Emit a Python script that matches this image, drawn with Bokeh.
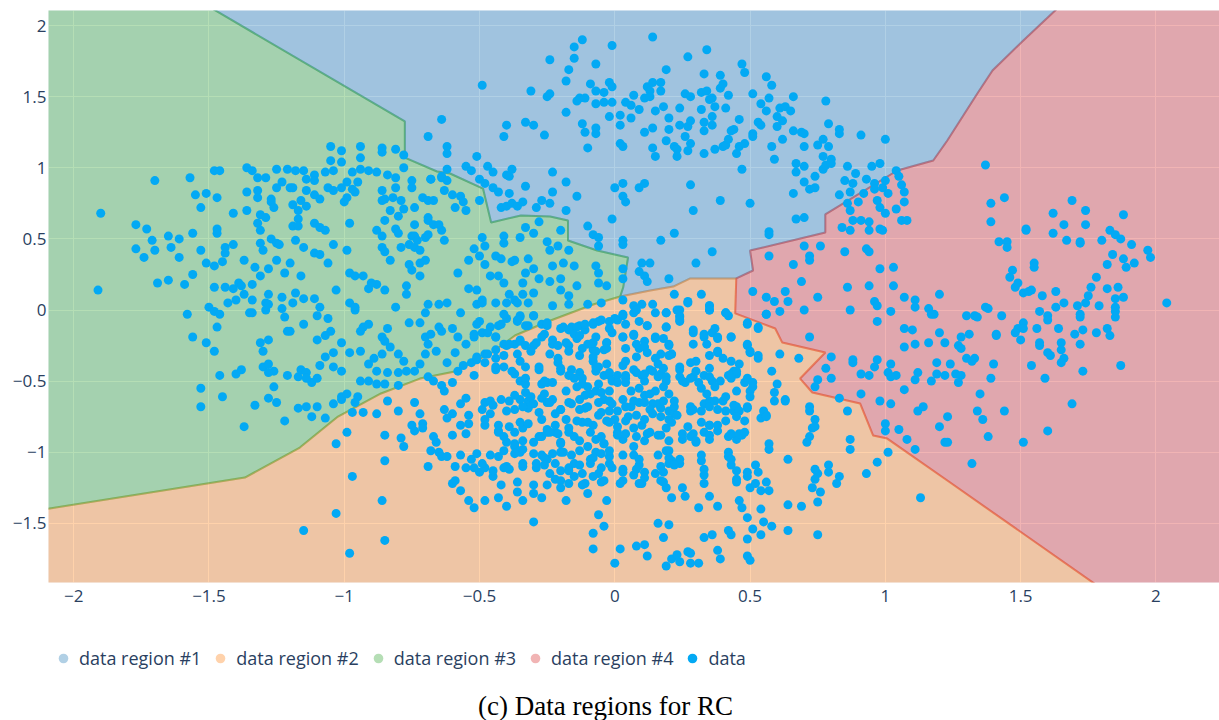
from bokeh.plotting import figure
from bokeh.layouts import column
from bokeh.models import ColumnDataSource, FixedTicker, Legend, LegendItem, Label, Range1d
from bokeh.embed import file_html
from bokeh.resources import INLINE

# ---------------- region boundaries (data coordinates) ----------------
bg_x = [-1.56, -0.776, -0.776, -0.657, -0.609, -0.487, -0.457, -0.347, -0.239, -0.173, -0.173, -0.065, 0.049, 0.031, 0.020]
bg_y = [2.2, 1.326, 1.072, 0.974, 0.960, 0.854, 0.615, 0.665, 0.658, 0.629, 0.489, 0.418, 0.369, 0.158, 0.095]
bo_x = [0.020, 0.131, 0.216, 0.279, 0.449]
bo_y = [0.095, 0.137, 0.165, 0.222, 0.222]
br_x = [0.449, 0.511, 0.500, 0.778, 0.778, 1.044, 1.177, 1.229, 1.340, 1.396, 1.510, 1.68]
br_y = [0.222, 0.278, 0.418, 0.545, 0.672, 0.981, 1.051, 1.192, 1.522, 1.684, 1.895, 2.2]
or_x = [0.449, 0.445, 0.593, 0.619, 0.778, 0.685, 0.730, 0.907, 0.955, 1.007, 1.229, 1.83]
or_y = [0.222, -0.024, -0.130, -0.229, -0.299, -0.482, -0.580, -0.658, -0.883, -0.904, -1.199, -2.0]
go_x = [0.020, -0.080, -0.247, -0.369, -0.454, -0.591, -0.720, -0.864, -1.023, -1.164, -1.367, -2.2]
go_y = [0.095, 0.039, -0.081, -0.179, -0.299, -0.432, -0.482, -0.587, -0.749, -0.967, -1.178, -1.43]

# ---------------- data points ----------------
pts_left = [
(-1.90,0.68),(-1.91,0.14),(-1.70,0.91),(-1.77,0.60),(-1.73,0.57),(-1.71,0.49),(-1.77,0.43),(-1.74,0.37),(-1.70,0.42),
(-1.65,0.52),(-1.61,0.50),(-1.64,0.44),(-1.61,0.37),(-1.56,0.54),(-1.53,0.42),(-1.57,0.93),(-1.55,0.81),(-1.51,0.82),
(-1.47,0.79),(-1.53,0.72),(-1.48,0.98),(-1.46,0.98),(-1.41,0.68),(-1.36,0.70),(-1.47,0.57),(-1.47,0.54),(-1.51,0.33),
(-1.48,0.31),(-1.45,0.34),(-1.56,0.25),(-1.59,0.18),(-1.65,0.21),(-1.69,0.19),(-1.58,-0.03),(-1.56,-0.19),(-1.51,-0.23),
(-1.48,-0.29),(-1.47,-0.12),(-1.50,0.02),(-1.48,-0.01),(-1.46,-0.03),(-1.53,-0.55),(-1.53,-0.68),(-1.46,-0.46),(-1.45,-0.61),
(-1.37,-0.82),(-1.40,-0.45),(-1.38,-0.42),(-1.48,0.16),(-1.44,0.16),(-1.43,0.05),(-1.40,0.07),(-1.41,0.15),(-1.39,0.19),
(-1.38,0.17),(-1.37,0.11),(-1.34,0.18),(-1.34,0.07),(-1.34,-0.02),(-1.44,0.44),(-1.41,0.46),(-1.44,0.40),(-1.37,0.35),
(-1.33,0.30),(-1.31,0.24),(-1.28,0.29),(-1.25,0.35),(-1.20,0.33),(-1.22,0.26),(-1.16,0.24),(-1.36,1.00),(-1.34,0.98),
(-1.32,0.93),(-1.29,0.93),(-1.36,0.83),(-1.32,0.84),(-1.32,0.79),(-1.25,0.99),(-1.27,0.78),(-1.27,0.76),(-1.26,0.72),
(-1.25,0.86),(-1.23,0.90),(-1.20,0.86),(-1.19,0.86),(-1.21,0.99),(-1.18,0.98),(-1.15,0.98),(-1.11,0.95),(-1.14,0.92),
(-1.11,0.91),(-1.07,0.97),(-1.04,0.98),(-1.05,1.15),(-1.01,1.12),(-1.05,1.05),(-1.01,1.04),(-0.94,1.15),(-0.94,1.07),
(-0.86,1.14),(-0.81,1.13),(-0.86,1.11),(-0.78,1.09),(-0.97,0.97),(-0.94,0.99),(-0.91,0.98),(-0.88,0.97),(-1.19,0.74),
(-1.16,0.77),(-1.17,0.70),(-1.14,0.73),(-1.17,0.64),(-1.19,0.59),(-1.17,0.59),(-1.31,0.67),(-1.29,0.65),(-1.32,0.61),
(-1.31,0.56),(-1.31,0.47),(-1.30,0.42),(-1.27,0.50),(-1.25,0.47),(-1.24,0.46),(-1.18,0.49),(-1.15,0.44),(-1.11,0.61),
(-1.09,0.58),(-1.07,0.56),(-1.11,0.40),(-1.09,0.39),(-1.06,0.33),(-1.04,0.46),(-0.99,0.42),(-0.98,0.61),(-1.14,0.84),
(-1.11,0.81),(-1.09,0.78),(-1.06,0.86),(-1.04,0.84),(-1.01,0.86),(-0.99,0.79),(-1.00,0.76),(-0.96,0.83),(-0.95,0.90),
(-0.99,0.90),(-0.97,0.85),(-0.88,0.56),(-0.86,0.52),(-0.85,0.63),(-0.86,0.44),(-0.85,0.41),(-0.83,0.35),(-0.81,0.57),
(-0.80,0.54),(-0.79,0.44),(-0.76,0.46),(-0.75,0.52),(-0.74,0.60),(-0.86,0.84),(-0.85,0.78),(-0.82,0.79),(-0.81,0.86),
(-0.79,0.77),(-0.75,0.86),(-0.75,0.91),(-0.78,1.00),(-0.84,0.95),(-0.81,0.93),(-0.83,0.70),(-0.80,0.66),(-0.78,0.71),
(-0.86,0.77),(-0.74,0.72),(-0.71,0.79),(-0.69,0.77),(-0.67,0.77),(-0.69,0.65),(-0.69,0.63),(-0.67,0.60),(-0.74,0.52),
(-0.74,0.44),(-0.73,0.49),(-0.70,0.51),(-0.69,0.53),(-0.72,0.42),(-0.68,0.92),(-0.64,0.93),(-0.64,0.56),(-0.63,0.49),
(-0.65,0.60),(-0.76,0.32),(-0.72,0.33),(-0.75,0.28),(-0.70,0.35),(-0.72,0.24),(-0.77,0.17),(-0.77,0.11),(-0.81,0.02),
(-0.88,0.18),(-0.85,0.14),(-0.91,0.15),(-0.90,0.19),(-0.98,0.26),(-0.96,0.24),(-0.93,0.24),(-1.03,0.14),(-0.98,0.05),
(-0.96,0.00),(-0.96,0.02),(-1.11,0.08),(-1.09,0.02),(-1.10,-0.04),(-1.06,-0.06),(-1.05,-0.15),(-1.07,-0.18),(-1.10,-0.21),
(-1.15,-0.10),(-1.20,-0.15),(-1.21,-0.15),(-1.15,0.08),(-1.18,0.12),(-1.19,0.05),(-1.23,0.09),(-1.22,-0.05),(-1.23,0.01),
(-1.28,0.11),(-1.29,0.05),(-1.29,0.00),(-1.28,0.04),(-1.35,-0.02),(-1.31,-0.23),(-1.28,-0.21),(-1.30,-0.29),(-1.30,-0.40),
(-1.28,-0.38),(-1.26,-0.43),(-1.28,-0.44),(-1.26,-0.54),(-1.21,-0.46),(-1.17,-0.47),(-1.16,-0.42),(-1.14,-0.44),(-1.12,-0.51),
(-1.10,-0.48),(-1.14,-0.48),(-1.28,-0.62),(-1.25,-0.65),(-1.33,-0.67),(-1.22,-0.78),(-1.17,-0.69),(-1.14,-0.68),(-1.12,-0.75),
(-1.10,-0.68),(-1.07,-0.76),(-1.04,-0.66),(-1.01,-0.63),(-1.01,-0.23),(-0.98,-0.30),(-0.94,-0.29),(-1.04,-0.30),(-1.07,-0.33),
(-1.09,-0.39),(-1.04,-0.40),(-1.01,-0.43),(-0.93,-0.12),(-0.91,-0.10),(-0.94,-0.15),(-0.84,-0.13),(-0.86,-0.19),(-0.85,-0.22),
(-0.83,-0.26),(-0.80,-0.31),(-0.78,-0.36),(-0.86,-0.31),(-0.91,-0.38),(-0.89,-0.34),(-0.88,-0.43),(-0.84,-0.44),(-0.80,-0.44),
(-0.77,-0.43),(-0.74,-0.43),(-0.72,-0.38),(-0.70,-0.31),(-0.69,-0.24),(-0.70,-0.19),(-0.68,-0.17),(-0.66,-0.29),(-0.64,-0.15),
(-0.65,-0.12),(-0.69,0.04),(-0.65,0.04),(-0.62,0.05),(-0.76,-0.09),(-0.72,-0.09),(-0.70,-0.02),(-0.91,-0.50),(-0.88,-0.52),
(-0.85,-0.52),(-0.80,-0.53),(-0.94,-0.50),(-1.01,-0.61),(-0.99,-0.59),(-0.95,-0.61),(-0.96,-0.65),(-0.69,-0.47),(-0.67,-0.50),
(-0.64,-0.53),(-0.63,-0.57),
(-0.60,0.81),(-0.57,0.80),(-0.56,0.76),(-0.55,0.70),(-0.59,0.72),(-0.50,0.77),(-0.49,0.51),(-0.48,0.45),(-0.52,0.43),
(-0.54,0.35),(-0.50,0.38),(-0.48,0.32),(-0.44,0.38),(-0.42,0.36),(-0.41,0.52),(-0.41,0.47),(-0.35,0.51),(-0.33,0.58),
(-0.30,0.54),(-0.37,0.35),(-0.38,0.34),(-0.32,0.36),(-0.30,0.29),(-0.28,0.22),(-0.33,0.26),(-0.34,0.19),(-0.25,0.48),
(-0.24,0.42),(-0.21,0.45),(-0.20,0.56),(-0.17,0.42),(-0.19,0.33),(-0.15,0.31),(-0.23,0.31),(-0.24,0.20),(-0.20,0.22),
(-0.14,0.17),(-0.20,0.14),(-0.17,0.10),(-0.43,0.24),(-0.46,0.24),(-0.41,0.19),(-0.39,0.11),(-0.37,0.07),(-0.34,0.11),
(-0.30,0.12),(-0.51,0.14),(-0.54,0.15),(-0.49,0.07),(-0.58,0.26),(-0.68,0.92),(-0.64,0.94),(-0.62,0.91),(-0.62,0.99),
(-0.63,0.84),(-0.60,-0.13),(-0.52,-0.19),(-0.59,-0.30),(-0.62,-0.37),
]

pts_top = [
(-0.49,1.58),(-0.64,1.34),(-0.69,1.22),(-0.62,1.15),(-0.62,1.10),(-0.40,1.30),(-0.41,1.22),(-0.33,1.32),(-0.30,1.30),
(-0.26,1.23),(-0.31,1.54),(-0.24,1.76),(-0.25,1.50),(-0.24,1.52),(-0.18,1.61),(-0.17,1.69),(-0.15,1.85),(-0.15,1.77),
(-0.12,1.90),(-0.07,1.73),(-0.01,1.86),(0.14,1.92),(-0.18,1.39),(-0.14,1.47),(-0.13,1.49),(-0.11,1.49),(-0.09,1.59),
(-0.07,1.54),(-0.07,1.45),(-0.04,1.53),(-0.02,1.60),(-0.01,1.57),(-0.01,1.46),(-0.04,1.46),(-0.12,1.31),(-0.11,1.25),
(-0.07,1.28),(-0.07,1.24),(-0.10,1.14),(-0.02,1.36),(0.02,1.37),(0.02,1.30),(0.02,1.17),(0.03,1.15),(0.04,1.46),
(0.06,1.44),(0.07,1.51),(0.06,1.35),(0.09,1.41),(0.11,1.49),(0.12,1.57),(0.13,1.54),(0.14,1.60),(0.13,1.50),(0.15,1.40),
(0.11,1.25),(0.14,1.28),(0.14,1.14),(0.15,1.08),
(-0.55,1.01),(-0.53,0.98),(-0.51,1.08),(-0.50,0.92),(-0.48,0.89),(-0.47,1.01),(-0.45,0.97),(-0.45,0.86),(-0.43,0.83),
(-0.40,0.95),(-0.39,0.94),(-0.38,0.99),(-0.39,0.82),(-0.42,0.72),(-0.40,0.73),(-0.38,0.75),(-0.36,0.73),(-0.34,0.76),
(-0.33,0.87),(-0.29,0.72),(-0.27,0.77),(-0.24,0.75),(-0.23,0.83),(-0.23,0.97),(-0.18,0.90),(-0.18,0.70),(-0.14,0.80),
(-0.28,0.62),(0.00,0.86),(0.03,0.89),(0.03,0.80),(0.04,0.76),(0.09,0.86),(0.11,0.89),(-0.01,0.64),(-0.10,0.59),
(-0.08,0.53),(-0.06,0.51),(-0.06,0.45),(0.03,0.49),(0.03,0.46),(0.10,0.33),(0.13,0.33),(0.11,0.24),(0.09,0.27),
(0.12,0.20),(-0.07,0.31),(-0.06,0.26),(-0.06,0.19),(-0.03,0.17),(0.03,0.29),(0.03,0.22),
(0.27,1.78),(0.34,1.83),(0.19,1.69),(0.17,1.60),(0.17,1.54),(0.18,1.43),(0.20,1.35),(0.20,1.27),(0.24,1.30),(0.27,1.29),
(0.28,1.33),(0.24,1.42),(0.26,1.52),(0.28,1.50),(0.32,1.41),(0.32,1.53),(0.34,1.54),(0.35,1.48),(0.36,1.49),(0.37,1.43),
(0.39,1.56),(0.39,1.65),(0.40,1.59),(0.42,1.51),(0.41,1.42),(0.36,1.36),(0.36,1.30),(0.33,1.32),(0.33,1.66),(0.33,1.26),
(0.19,1.19),(0.22,1.15),(0.23,1.13),(0.26,1.22),(0.28,1.17),(0.27,1.12),(0.23,1.08),(0.33,1.10),(0.37,1.13),(0.40,1.15),
(0.41,1.16),(0.42,1.20),(0.45,1.10),(0.46,1.15),(0.44,1.27),(0.43,1.26),(0.46,1.34),(0.47,1.73),(0.48,1.67),(0.51,1.52),
(0.53,1.32),(0.54,1.30),(0.51,1.24),(0.51,1.22),(0.48,1.17),(0.47,0.99),(0.58,1.15),(0.59,1.06),(0.62,1.20),(0.56,1.64),
(0.58,1.58),(0.54,1.45),(0.57,1.49),(0.56,1.40),(0.60,1.36),(0.61,1.42),(0.63,1.43),(0.65,1.40),(0.66,1.50),(0.62,1.33),
(0.60,1.29),(0.66,1.26),(0.69,1.25),(0.70,1.24),(0.70,1.15),(0.78,1.47),(0.79,1.31),(0.83,1.27),(0.83,1.24),(0.75,1.16),
(0.77,1.20),(0.79,1.15),(0.77,1.08),(0.77,0.99),(0.78,1.02),(0.80,1.06),(0.80,1.03),(0.67,1.03),(0.70,1.01),(0.67,0.97),
(0.74,0.94),(0.70,0.90),(0.72,0.85),(0.74,0.86),(0.66,0.82),(0.91,1.23),(1.00,1.20),
(0.85,0.91),(0.86,1.01),(0.89,0.96),(0.88,0.89),(0.87,0.83),(0.83,0.81),(0.86,0.75),(0.90,0.76),(0.92,0.82),(0.93,0.92),
(0.96,0.89),(0.95,1.01),(0.98,1.03),(0.96,0.85),(0.99,0.86),(1.00,0.91),(1.01,0.82),(1.04,0.98),(1.05,0.94),(1.06,0.88),
(1.07,0.83),(0.97,0.77),(0.98,0.72),(1.00,0.68),(1.04,0.71),(1.07,0.76),(1.06,0.63),(1.08,0.63),(0.87,0.70),(0.88,0.63),
(0.91,0.63),(0.94,0.62),(0.94,0.56),(0.98,0.57),(0.99,0.56),(0.84,0.58),(0.87,0.56),
(0.28,0.88),(0.39,0.77),(0.50,0.75),(0.29,0.70),(0.67,0.64),(0.70,0.65),(0.57,0.55),(0.57,0.53),(0.22,0.54),(0.17,0.49),
(0.36,0.41),(0.30,0.33),(0.20,0.22),
]

pts_bottom = [
(0.22,0.11),(0.32,0.11),(0.27,0.06),(0.35,0.03),(0.35,0.00),(0.19,-0.02),(0.24,0.00),(0.24,-0.04),(0.41,-0.02),(0.03,0.07),
(0.07,0.03),(0.10,0.04),(0.14,0.04),
(-0.97,-0.72),(-0.93,-0.72),(-0.88,-0.73),(-0.84,-0.64),(-0.80,-0.71),(-0.74,-0.65),(-0.72,-0.73),(-0.75,-0.81),(-0.71,-0.80),
(-0.67,-0.89),(-0.85,-0.88),(-0.79,-0.90),(-0.99,-0.86),
(-1.03,-0.94),(-0.85,-1.06),(-0.97,-1.17),(-1.03,-1.43),(-0.98,-1.71),(-0.85,-1.62),(-0.86,-1.34),(-1.15,-1.55),(-0.69,-1.10),
(-0.66,-0.93),(-0.65,-1.00),(-0.78,-0.96),
(-0.57,-0.02),(-0.50,-0.08),(-0.49,-0.16),(-0.46,-0.12),(-0.43,-0.11),(-0.40,-0.06),(-0.36,-0.08),(-0.35,-0.05),(-0.32,-0.11),
(-0.30,-0.04),(-0.27,-0.10),(-0.25,-0.11),(-0.20,-0.13),(-0.16,-0.12),(-0.13,-0.11),(-0.11,-0.14),(-0.08,-0.10),(-0.06,-0.08),
(-0.02,-0.08),(0.01,-0.07),(0.03,-0.04),(0.07,-0.02),(0.12,-0.11),(0.19,-0.12),(0.24,-0.08),(0.29,-0.16),(0.42,-0.04),
(0.49,-0.10),(0.53,-0.13),
(-0.58,-0.19),(-0.55,-0.24),(-0.51,-0.35),(-0.48,-0.31),(-0.44,-0.28),(-0.44,-0.19),(-0.40,-0.25),(-0.37,-0.24),(-0.35,-0.22),
(-0.30,-0.25),(-0.27,-0.19),(-0.23,-0.24),(-0.17,-0.25),(-0.14,-0.20),(-0.12,-0.27),(-0.08,-0.28),(-0.08,-0.23),(-0.04,-0.28),
(-0.03,-0.23),(-0.01,-0.16),(0.03,-0.19),(0.07,-0.18),(0.09,-0.27),(0.11,-0.22),(0.15,-0.20),(0.17,-0.31),(0.20,-0.25),
(0.21,-0.31),(0.29,-0.24),(0.33,-0.19),(0.36,-0.16),(0.38,-0.20),(0.43,-0.19),(0.49,-0.25),(0.50,-0.30),(0.53,-0.34),
(0.61,-0.31),(0.68,-0.34),
(-0.60,-0.51),(-0.58,-0.43),(-0.56,-0.39),(-0.53,-0.37),(-0.51,-0.34),(-0.48,-0.37),(-0.44,-0.42),(-0.41,-0.40),(-0.37,-0.45),
(-0.35,-0.50),(-0.33,-0.52),(-0.28,-0.42),(-0.27,-0.52),(-0.25,-0.51),(-0.21,-0.37),(-0.20,-0.43),(-0.16,-0.42),(-0.15,-0.48),
(-0.12,-0.52),(-0.08,-0.36),(-0.07,-0.43),(-0.06,-0.40),(-0.02,-0.46),(-0.01,-0.50),(0.03,-0.39),(0.04,-0.46),(0.07,-0.42),
(0.10,-0.46),(0.11,-0.50),(0.13,-0.42),(0.17,-0.45),(0.19,-0.47),(0.24,-0.42),(0.26,-0.51),(0.29,-0.47),(0.31,-0.51),
(0.35,-0.41),(0.36,-0.50),(0.42,-0.46),(0.43,-0.48),(0.45,-0.45),(0.48,-0.51),(0.50,-0.57),(0.58,-0.43),(0.59,-0.58),
(0.60,-0.52),(0.63,-0.63),
(-0.63,-0.70),(-0.60,-0.73),(-0.57,-0.66),(-0.55,-0.62),(-0.48,-0.65),(-0.46,-0.73),(-0.43,-0.85),(-0.39,-0.64),(-0.37,-0.70),
(-0.35,-0.63),(-0.32,-0.64),(-0.32,-0.69),(-0.27,-0.62),(-0.25,-0.65),(-0.22,-0.73),(-0.20,-0.70),(-0.16,-0.66),(-0.13,-0.63),
(-0.11,-0.69),(-0.09,-0.59),(-0.07,-0.57),(-0.04,-0.63),(-0.02,-0.71),(-0.01,-0.66),(0.03,-0.63),(0.06,-0.68),(0.09,-0.65),
(0.11,-0.60),(0.14,-0.66),(0.17,-0.69),(0.20,-0.71),(0.22,-0.68),(0.28,-0.71),(0.29,-0.70),(0.33,-0.66),(0.35,-0.64),
(0.38,-0.70),(0.40,-0.64),(0.44,-0.71),(0.45,-0.68),(0.49,-0.69),(0.56,-0.74),(0.59,-0.64),(0.63,-0.64),(0.72,-0.71),
(-0.74,-0.85),(-0.71,-0.83),(-0.62,-0.76),(-0.60,-0.88),(-0.57,-0.81),(-0.55,-0.87),(-0.54,-0.80),(-0.48,-0.81),(-0.43,-0.86),
(-0.40,-0.93),(-0.37,-0.86),(-0.34,-0.83),(-0.30,-0.93),(-0.27,-0.89),(-0.25,-0.86),(-0.22,-0.86),(-0.20,-0.93),(-0.17,-0.83),
(-0.15,-0.89),(-0.12,-0.79),(-0.08,-0.81),(-0.07,-0.91),(-0.04,-0.94),(-0.02,-0.79),(0.01,-0.86),(0.03,-0.91),(0.05,-0.75),
(0.07,-0.83),(0.10,-0.81),(0.12,-0.87),(0.16,-0.88),(0.19,-0.83),(0.21,-0.79),(0.25,-0.91),(0.28,-0.89),(0.30,-0.93),
(0.35,-0.81),(0.35,-0.91),(0.38,-0.85),(0.42,-0.89),(0.45,-0.91),(0.47,-0.88),(0.54,-0.76),(0.57,-0.98),(0.71,-0.93),
(0.73,-0.83),
(-0.68,-0.99),(-0.64,-1.03),(-0.62,-1.03),(-0.59,-1.10),(-0.57,-1.02),(-0.55,-1.11),(-0.53,-1.05),(-0.50,-1.14),(-0.48,-1.11),
(-0.45,-1.17),(-0.43,-1.03),(-0.40,-1.10),(-0.37,-0.96),(-0.35,-1.00),(-0.34,-1.10),(-0.29,-1.11),(-0.27,-1.02),(-0.25,-1.05),
(-0.22,-1.08),(-0.20,-1.00),(-0.17,-1.11),(-0.15,-1.08),(-0.12,-1.15),(-0.09,-1.05),(-0.07,-1.00),(-0.06,-1.15),(-0.02,-1.03),
(-0.01,-1.11),(0.03,-1.12),(0.07,-1.02),(0.09,-1.09),(0.11,-1.14),(0.17,-1.10),(0.20,-0.99),(0.21,-1.06),(0.24,-1.08),
(0.32,-1.06),(0.33,-1.16),(0.42,-1.03),(0.43,-1.09),(0.49,-1.17),(0.53,-1.14),(0.64,-1.05),(0.75,-1.15),(0.79,-1.14),
(-0.60,-1.22),(-0.59,-1.20),(-0.57,-1.27),(-0.54,-1.34),(-0.52,-1.39),(-0.48,-1.34),(-0.43,-1.32),(-0.40,-1.38),(-0.36,-1.28),
(-0.34,-1.34),(-0.30,-1.29),(-0.27,-1.32),(-0.22,-1.19),(-0.20,-1.20),(-0.18,-1.34),(-0.15,-1.17),(-0.11,-1.22),(-0.10,-1.29),
(-0.08,-1.17),(-0.04,-1.20),(-0.03,-1.34),(0.03,-1.20),(0.07,-1.16),(0.10,-1.22),(0.17,-1.20),(0.19,-1.25),(0.21,-1.32),
(0.26,-1.31),(0.31,-1.39),(0.35,-1.31),(0.38,-1.38),(0.45,-1.19),(0.46,-1.34),(0.47,-1.39),(0.49,-1.46),(0.50,-1.25),
(0.54,-1.27),(0.54,-1.40),(0.57,-1.27),(0.64,-1.37),(0.69,-1.38),(0.73,-1.25),(0.75,-1.35),(0.76,-1.28),(0.82,-1.22),
(-0.30,-1.49),(-0.08,-1.57),(-0.08,-1.68),(-0.04,-1.52),(-0.06,-1.44),(0.00,-1.78),(0.02,-1.68),(0.08,-1.66),(0.11,-1.65),
(0.12,-1.73),(0.16,-1.50),(0.20,-1.51),(0.18,-1.60),(0.19,-1.80),(0.21,-1.75),(0.24,-1.77),(0.23,-1.72),(0.27,-1.70),
(0.28,-1.71),(0.28,-1.78),(0.31,-1.78),(0.33,-1.60),(0.36,-1.58),(0.38,-1.69),(0.39,-1.75),(0.42,-1.55),(0.43,-1.58),
(0.49,-1.61),(0.49,-1.73),(0.50,-1.76),(0.51,-1.54),(0.54,-1.58),(0.55,-1.49),(0.58,-1.52),(0.64,-1.55),(0.75,-1.58),
(0.72,-0.68),(0.74,-0.77),(0.74,-0.82),(0.72,-0.89),(0.87,-0.91),(0.87,-0.98),(0.97,-1.07),(1.01,-1.00),(0.93,-1.15),
(0.83,-1.17),(0.79,-1.09),(0.74,-1.12),(0.74,-1.19),
]

pts_core = [
(-0.51,0.04),(-0.49,0.05),(-0.44,0.05),(-0.40,0.05),(-0.36,0.05),(-0.32,0.05),(-0.23,0.03),(-0.17,0.04),(-0.10,0.04),
(-0.05,0.05),(-0.41,-0.03),(-0.35,-0.04),(-0.30,-0.04),(0.08,0.00),(0.15,-0.02),(0.19,-0.02),(0.23,0.00),(0.24,-0.05),
(0.27,0.05),(0.35,0.03),(0.35,0.00),(0.41,-0.02),(0.56,-0.03),
(-0.51,-0.10),(-0.42,-0.10),(-0.36,-0.07),(-0.33,-0.11),(-0.25,-0.09),(-0.19,-0.12),(-0.17,-0.14),(-0.14,-0.12),(-0.11,-0.10),
(-0.08,-0.09),(-0.05,-0.07),(-0.02,-0.13),(0.00,-0.06),(0.03,-0.03),(0.04,-0.10),(0.09,-0.08),(0.12,-0.11),(0.19,-0.12),
(0.24,-0.07),(0.29,-0.14),(0.33,-0.17),(0.37,-0.13),(0.38,-0.19),(0.43,-0.19),(0.49,-0.09),(0.53,-0.12),
(-0.52,-0.17),(-0.47,-0.16),(-0.44,-0.19),(-0.41,-0.24),(-0.39,-0.24),(-0.35,-0.21),(-0.33,-0.25),(-0.29,-0.23),(-0.26,-0.17),
(-0.23,-0.21),(-0.21,-0.25),(-0.18,-0.23),(-0.15,-0.17),(-0.13,-0.18),(-0.10,-0.24),(-0.07,-0.19),(-0.03,-0.23),(-0.03,-0.27),
(0.03,-0.19),(0.07,-0.17),(0.08,-0.24),(0.11,-0.26),(0.15,-0.19),(0.18,-0.20),(0.20,-0.24),(0.21,-0.31),(0.34,-0.24),
(0.38,-0.29),(0.49,-0.24),(0.50,-0.29),(0.53,-0.32),
(-0.51,-0.33),(-0.47,-0.31),(-0.44,-0.34),(-0.41,-0.32),(-0.36,-0.31),(-0.35,-0.36),(-0.31,-0.29),(-0.24,-0.31),(-0.21,-0.34),
(-0.17,-0.29),(-0.13,-0.32),(-0.07,-0.29),(-0.08,-0.33),(-0.03,-0.38),(0.04,-0.27),(0.04,-0.36),(0.08,-0.33),(0.12,-0.30),
(0.15,-0.34),(0.16,-0.38),(0.20,-0.32),(0.24,-0.40),(0.28,-0.37),(0.30,-0.36),(0.35,-0.32),(0.38,-0.30),(0.40,-0.34),
(0.43,-0.36),(0.44,-0.43),(0.46,-0.38),
(-0.52,-0.46),(-0.44,-0.40),(-0.38,-0.43),(-0.33,-0.40),(-0.33,-0.48),(-0.28,-0.40),(-0.26,-0.50),(-0.23,-0.51),(-0.20,-0.41),
(-0.17,-0.46),(-0.13,-0.44),(-0.12,-0.48),(-0.07,-0.40),(-0.04,-0.46),(-0.02,-0.44),(0.01,-0.46),(0.04,-0.48),(0.08,-0.44),
(0.11,-0.45),(0.14,-0.43),(0.16,-0.47),(0.18,-0.41),(0.19,-0.50),(0.24,-0.47),(0.28,-0.48),(0.30,-0.43),(0.33,-0.46),
(0.35,-0.47),(0.39,-0.50),(0.43,-0.45),(0.45,-0.43),(0.49,-0.48),(0.51,-0.51),
(-0.46,-0.64),(-0.42,-0.63),(-0.37,-0.60),(-0.33,-0.58),(-0.31,-0.61),(-0.26,-0.59),(-0.23,-0.63),(-0.18,-0.57),(-0.14,-0.54),
(-0.11,-0.60),(-0.10,-0.54),(-0.06,-0.52),(-0.05,-0.58),(-0.02,-0.57),(0.01,-0.51),(0.04,-0.51),(0.06,-0.57),(0.09,-0.55),
(0.13,-0.59),(0.15,-0.57),(0.18,-0.54),(0.20,-0.59),(0.25,-0.50),(0.32,-0.55),(0.34,-0.59),(0.37,-0.54),(0.41,-0.61),
(0.45,-0.57),(0.50,-0.61),(0.51,-0.54),
(-0.49,-0.70),(-0.45,-0.67),(-0.40,-0.71),(-0.34,-0.68),(-0.30,-0.66),(-0.28,-0.72),(-0.24,-0.65),(-0.20,-0.70),(-0.17,-0.65),
(-0.13,-0.70),(-0.10,-0.68),(-0.06,-0.65),(-0.05,-0.72),(-0.02,-0.64),(0.01,-0.71),(0.04,-0.68),(0.07,-0.64),(0.11,-0.65),
(0.13,-0.70),(0.16,-0.66),(0.18,-0.64),(0.22,-0.64),(0.22,-0.73),(0.28,-0.68),(0.32,-0.71),(0.35,-0.68),(0.37,-0.64),
(0.41,-0.71),(0.44,-0.67),(0.46,-0.71),(0.49,-0.68),(0.55,-0.71),(0.56,-0.75),
(-0.54,-0.74),(-0.48,-0.77),(-0.43,-0.81),(-0.39,-0.82),(-0.35,-0.79),(-0.32,-0.80),(-0.27,-0.77),(-0.25,-0.84),(-0.22,-0.81),
(-0.18,-0.77),(-0.14,-0.78),(-0.10,-0.79),(-0.06,-0.74),(-0.03,-0.78),(0.00,-0.77),(0.01,-0.82),(0.04,-0.78),(0.08,-0.74),
(0.11,-0.77),(0.14,-0.73),(0.17,-0.75),(0.20,-0.77),(0.23,-0.74),(0.27,-0.82),(0.32,-0.79),(0.35,-0.81),(0.38,-0.81),
(0.41,-0.78),(0.45,-0.75),(0.48,-0.78),
(-0.41,-0.89),(-0.37,-0.94),(-0.34,-0.92),(-0.28,-0.89),(-0.24,-0.86),(-0.21,-0.87),(-0.20,-0.94),(-0.17,-0.86),(-0.13,-0.92),
(-0.09,-0.86),(-0.05,-0.89),(-0.04,-0.94),(0.01,-0.88),(0.04,-0.87),(0.08,-0.89),(0.11,-0.92),(0.13,-0.86),(0.17,-0.88),
(0.20,-0.92),(0.25,-0.87),(0.29,-0.87),(0.30,-0.92),(0.33,-0.86),(0.35,-0.88),(0.43,-0.87),(0.46,-0.87),(0.48,-0.86),
(0.57,-0.94),
(-0.51,-1.01),(-0.46,-1.02),(-0.41,-0.99),(-0.37,-1.01),(-0.34,-0.98),(-0.30,-1.01),(-0.26,-1.04),(-0.23,-1.01),(-0.19,-1.00),
(-0.16,-1.02),(-0.13,-0.99),(-0.10,-0.96),(-0.08,-1.04),(-0.05,-1.01),(-0.02,-0.99),(0.03,-1.02),(0.07,-0.96),(0.09,-1.05),
(0.16,-1.02),(0.19,-0.99),(0.20,-1.04),(0.24,-1.05),(0.32,-1.02),(0.42,-1.00),(0.43,-1.05),
(-0.52,-1.11),(-0.49,-1.08),(-0.45,-1.13),(-0.41,-1.11),(-0.39,-1.12),(-0.34,-1.08),(-0.29,-1.08),(-0.26,-1.09),(-0.24,-1.15),
(-0.20,-1.13),(-0.17,-1.13),(-0.13,-1.09),(-0.09,-1.08),(-0.05,-1.11),(-0.02,-1.08),(0.03,-1.14),(0.08,-1.12),(0.11,-1.18),
(0.15,-1.15),(0.18,-1.14),(0.20,-1.08),(0.22,-1.09),(0.33,-1.12),(0.45,-1.13),(0.49,-1.14),(0.52,-1.09),
(-0.42,-1.23),(-0.36,-1.21),(-0.30,-1.23),(-0.25,-1.23),(-0.20,-1.25),(-0.17,-1.22),(-0.12,-1.23),(-0.05,-1.21),(0.02,-1.22),
(0.09,-1.22),(0.18,-1.21),(0.25,-1.25),(0.33,-1.22),(0.45,-1.21),(0.52,-1.22),(0.56,-1.21),
]

pts_right = [
(0.57,0.38),(0.66,0.32),(0.70,0.45),(0.72,0.38),(0.72,0.35),(0.76,0.45),(0.85,0.41),(0.93,0.43),(0.94,0.41),(0.69,0.20),
(0.63,0.13),(0.59,0.06),(0.56,0.09),(0.51,0.13),(0.64,0.06),(0.61,-0.01),(0.56,-0.03),(0.75,0.09),(0.86,0.16),(0.87,0.00),
(0.94,0.17),(0.96,0.06),(0.97,0.03),(0.98,0.29),(1.03,0.30),(1.03,0.17),(1.07,0.09),(1.11,0.07),(1.11,0.02),(1.16,0.01),
(1.18,-0.03),(1.20,0.11),(1.30,-0.04),(1.33,-0.04),(0.70,0.00),(0.97,-0.08),(1.02,-0.01),
(1.37,1.02),(1.39,0.75),(1.44,0.79),(1.39,0.62),(1.42,0.48),(1.45,0.48),(1.45,0.44),(1.52,0.57),(1.52,0.56),(1.55,0.33),
(1.55,0.30),(1.62,0.68),(1.66,0.60),(1.62,0.54),(1.69,0.77),(1.74,0.70),(1.74,0.60),(1.67,0.49),(1.72,0.48),(1.72,0.47),
(1.80,0.49),(1.83,0.56),(1.85,0.53),(1.87,0.50),(1.91,0.46),(1.97,0.42),(1.98,0.37),(1.88,0.67),(1.84,0.39),(1.82,0.32),
(1.88,0.36),(1.89,0.30),(1.92,0.33),(1.47,0.28),(1.46,0.23),(1.48,0.16),(1.49,0.19),(1.51,0.12),(1.53,0.13),(1.54,0.14),
(1.58,0.10),(1.63,0.13),(1.66,0.05),(1.63,0.02),(1.57,-0.01),(1.60,-0.04),(1.60,-0.07),(1.78,0.23),(1.76,0.16),(1.75,0.10),
(1.82,0.15),(1.86,0.16),(1.85,0.08),(1.88,0.09),(1.79,0.03),(2.04,0.05),(1.37,0.02),(1.43,-0.04),
(1.71,0.03),(1.72,-0.03),(1.74,0.05),(1.72,-0.05),(1.70,-0.17),(1.73,-0.14),(1.72,-0.24),(1.78,-0.16),(1.82,-0.13),
(1.83,-0.18),(1.85,-0.01),(1.85,0.02),(1.85,-0.05),
(1.51,-0.09),(1.49,-0.13),(1.48,-0.16),(1.51,-0.13),(1.50,-0.21),(1.56,-0.13),(1.57,-0.23),(1.57,-0.25),(1.60,-0.30),
(1.61,-0.32),(1.64,-0.13),(1.65,-0.23),(1.65,-0.28),(1.66,-0.34),(1.65,-0.37),(1.59,-0.48),(1.54,-0.39),(1.73,-0.43),
(1.87,-0.39),(1.69,-0.66),
(1.34,-0.05),(1.38,0.01),(1.41,-0.17),(1.41,-0.18),(1.31,-0.17),(1.28,-0.19),(1.27,-0.25),(1.28,-0.27),(1.22,-0.23),
(1.16,-0.23),(1.20,-0.16),(1.11,-0.24),(1.07,-0.26),(1.07,-0.13),(1.10,-0.14),(1.17,-0.03),
(1.19,-0.37),(1.24,-0.38),(1.30,-0.34),(1.33,-0.34),(1.40,-0.38),(1.39,-0.48),(1.32,-0.36),(1.26,-0.45),(1.22,-0.46),
(1.19,-0.45),(1.17,-0.50),(1.28,-0.46),(1.27,-0.51),(1.12,-0.44),(1.11,-0.49),(1.04,-0.46),(1.01,-0.44),(1.07,-0.56),
(1.02,-0.38),(1.02,-0.47),(0.97,-0.35),(0.96,-0.40),(0.88,-0.35),(0.88,-0.37),
(0.91,-0.45),(0.94,-0.46),(0.91,-0.59),(0.98,-0.64),(1.02,-0.66),(1.35,-0.59),(1.34,-0.71),(1.36,-0.77),(1.44,-0.71),
(1.23,-0.75),(1.20,-0.82),(1.12,-0.71),(1.14,-0.68),(1.00,-0.80),(1.00,-0.85),(1.05,-0.84),(1.08,-0.91),(1.11,-0.98),
(1.22,-0.93),(1.23,-0.93),(1.38,-0.89),(1.51,-0.93),(1.60,-0.85),(1.32,-1.08),(1.13,-1.32),
(0.72,-0.19),(0.80,-0.33),(0.78,-0.41),(0.75,-0.49),(0.74,-0.54),(0.80,-0.48),(0.83,-0.62),(0.86,-0.71),
]

region_labels = ["data region #1", "data region #2", "data region #3", "data region #4"]
region_colors = ["#1f77b4", "#ff7f0e", "#2ca02c", "#d62728"]
point_color = "#03a9f4"
x_ticks = [-2, -1.5, -1, -0.5, 0, 0.5, 1, 1.5, 2]
y_ticks = [-1.5, -1, -0.5, 0, 0.5, 1, 1.5, 2]
caption_text = "(c) Data regions for RC"

def tick_text(v):
    s = "%g" % abs(v)
    return ("\u2212" + s) if v < 0 else s

def poly(*parts):
    xs, ys = [], []
    for px, py in parts:
        xs += list(px)
        ys += list(py)
    return xs, ys

blue_poly = poly((bg_x, bg_y), (bo_x[1:], bo_y[1:]), (br_x[1:], br_y[1:]))
green_poly = poly(([-2.2], [2.2]), (bg_x, bg_y), (go_x[1:], go_y[1:]))
orange_poly = poly((go_x[::-1], go_y[::-1]), (bo_x[1:], bo_y[1:]), (or_x[1:], or_y[1:]), ([-2.2], [-2.0]))
red_poly = poly((br_x[::-1], br_y[::-1]), (or_x[1:], or_y[1:]), ([2.3, 2.3], [-2.0, 2.2]))
polys = [blue_poly, orange_poly, green_poly, red_poly]

# ---------------- main plot ----------------
p = figure(frame_width=1171, frame_height=572,
           min_border_left=48, min_border_right=0, min_border_top=10, min_border_bottom=36,
           x_range=Range1d(-2.093, 2.235), y_range=Range1d(-1.916, 2.106),
           output_backend="svg", toolbar_location=None,
           background_fill_color="#E5ECF6", border_fill_color="white")
p.outline_line_color = None

for (xs, ys), c in zip(polys, region_colors):
    p.patch(x=xs, y=ys, fill_color=c, fill_alpha=0.35, line_color=c, line_alpha=0.35, line_width=2)

all_pts = pts_left + pts_top + pts_bottom + pts_core + pts_right
src = ColumnDataSource(data=dict(x=[q[0] for q in all_pts], y=[q[1] for q in all_pts]))
p.scatter(x="x", y="y", source=src, size=9, marker="circle", fill_color=point_color, line_color=None)

p.xaxis.ticker = FixedTicker(ticks=x_ticks)
p.yaxis.ticker = FixedTicker(ticks=y_ticks)
p.xaxis.major_label_overrides = {t: tick_text(t) for t in x_ticks}
p.yaxis.major_label_overrides = {t: tick_text(t) for t in y_ticks}
for ax in (p.xaxis, p.yaxis):
    ax.axis_line_color = None
    ax.major_tick_line_color = None
    ax.minor_tick_line_color = None
    ax.major_tick_out = 0
    ax.major_tick_in = 0
    ax.major_label_text_font = "Open Sans"
    ax.major_label_text_font_size = "17px"
    ax.major_label_text_color = "#2a3f5f"
p.xaxis.major_label_standoff = 7
p.yaxis.major_label_standoff = 2
p.grid.grid_line_color = "white"
p.grid.grid_line_width = 1
p.grid.grid_line_alpha = 1.0

# ---------------- legend + caption strip (x in page pixels) ----------------
q = figure(frame_width=1171, frame_height=102, x_range=Range1d(48, 1219), y_range=Range1d(0, 102),
           min_border_left=48, min_border_right=0, min_border_top=0, min_border_bottom=0,
           x_axis_location=None, y_axis_location=None,
           output_backend="svg", toolbar_location=None)
q.grid.visible = False
q.outline_line_color = None

# legend glyph carriers: hidden renderers that hold the series' own data
leg_rs = []
for (xs, ys), c in zip(polys, region_colors):
    leg_rs.append(q.scatter(x=xs, y=ys, size=9, marker="circle", fill_color=c, fill_alpha=0.35,
                            line_color=None, visible=False))
leg_rs.append(q.scatter(x="x", y="y", source=src, size=9, marker="circle", fill_color=point_color,
                        line_color=None, visible=False))
labels = region_labels + ["data"]
items = [LegendItem(label=l, renderers=[r]) for l, r in zip(labels, leg_rs)]
legend = Legend(items=items, orientation="horizontal", location=(3, 50),
                glyph_width=24, glyph_height=24, label_standoff=4, spacing=7,
                padding=0, margin=0, border_line_color=None, background_fill_alpha=0,
                inactive_fill_alpha=0,
                label_text_font="Open Sans", label_text_font_size="18px", label_text_color="#2a3f5f")
q.add_layout(legend)

caption = Label(x=605, y=15, text=caption_text, text_font="Liberation Serif", text_font_size="27px",
                text_align="center", text_baseline="alphabetic", text_color="black")
q.add_layout(caption)

layout = column(p, q, spacing=0)
open("out.html", "w").write(file_html(layout, INLINE))
